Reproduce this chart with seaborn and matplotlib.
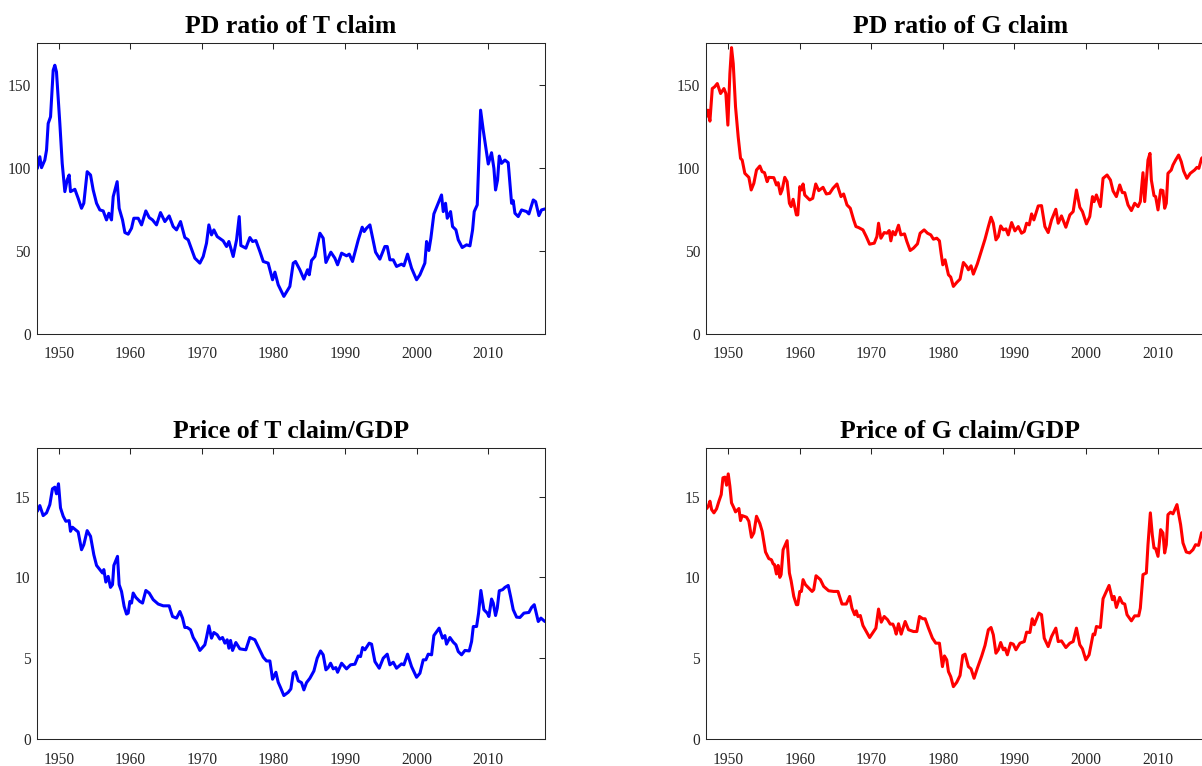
import numpy as np
import pandas as pd
import seaborn as sns
import matplotlib
matplotlib.use("Agg")
import matplotlib.pyplot as plt

# ---- data (year, value) ----
t_pd_year = [1947.0, 1947.34, 1947.58, 1948.04, 1948.28, 1948.51, 1948.84, 1949.21, 1949.44, 1949.67,
             1950.14, 1950.47, 1950.84, 1951.16, 1951.44, 1951.63, 1952.24, 1952.70, 1953.17, 1953.49,
             1953.96, 1954.43, 1954.80, 1955.27, 1955.73, 1956.20, 1956.66, 1956.99, 1957.36, 1957.60,
             1958.15, 1958.43, 1958.90, 1959.23, 1959.69, 1960.16, 1960.48, 1961.09, 1961.56, 1962.16,
             1962.63, 1963.09, 1963.65, 1964.21, 1964.82, 1965.42, 1965.98, 1966.45, 1967.01, 1967.61,
             1968.08, 1968.55, 1969.01, 1969.71, 1970.18, 1970.64, 1970.97, 1971.34, 1971.67, 1972.13,
             1972.97, 1973.44, 1973.77, 1974.37, 1974.84, 1975.21, 1975.44, 1976.14, 1976.70, 1977.08,
             1977.54, 1978.10, 1978.57, 1979.26, 1979.87, 1980.20, 1980.66, 1981.45, 1982.29, 1982.76,
             1983.08, 1983.69, 1984.25, 1984.76, 1985.00, 1985.32, 1985.79, 1986.49, 1986.95, 1987.33,
             1988.02, 1988.58, 1988.96, 1989.52, 1990.21, 1990.59, 1991.05, 1991.85, 1992.40, 1992.68,
             1993.01, 1993.48, 1994.27, 1994.87, 1995.57, 1995.90, 1996.27, 1996.74, 1997.20, 1997.90,
             1998.23, 1998.74, 1999.30, 2000.00, 2000.47, 2001.16, 2001.40, 2001.72, 2002.00, 2002.42,
             2002.89, 2003.49, 2003.73, 2004.05, 2004.29, 2004.75, 2005.03, 2005.50, 2005.83, 2006.38,
             2006.99, 2007.46, 2007.83, 2008.06, 2008.48, 2008.95, 2009.32, 2010.02, 2010.48, 2010.81,
             2011.04, 2011.32, 2011.56, 2011.88, 2012.35, 2012.81, 2013.28, 2013.51, 2013.75, 2014.21,
             2014.68, 2015.38, 2015.70, 2016.31, 2016.64, 2017.10, 2017.47, 2017.94]
t_pd = [99.6, 106.6, 100, 104.6, 110.6, 126.6, 130.6, 158.6, 161.6, 157.6,
        126.6, 102.6, 85.6, 92.6, 95.6, 85.6, 87, 81.6, 75.6, 78.6,
        97.6, 95.6, 86.6, 78.6, 74.6, 74, 68.6, 72.6, 68.6, 82.6,
        91.6, 75.6, 68.6, 61, 60, 63.6, 69.6, 69.6, 65.6, 74,
        70, 68.6, 65.6, 73, 67.6, 71, 64.6, 62.6, 67.6, 58,
        56.6, 51, 45.6, 42.6, 46.6, 54.6, 65.6, 59.6, 62.6, 58.6,
        56, 52.6, 55.6, 46.6, 56.6, 70.6, 53.2, 51.6, 58, 55.6,
        56.2, 49.6, 43.6, 42.6, 32.6, 37.2, 29.6, 22.6, 28.6, 42.6,
        43.6, 38.6, 33, 38.6, 35.6, 44.2, 46.6, 60.6, 57.6, 43,
        49.2, 45.6, 41.6, 48.6, 47, 48, 43.6, 56.6, 64.2, 61.6,
        63.6, 65.6, 49.2, 45, 52.6, 52.6, 44.6, 44.6, 40.6, 42,
        41, 48, 39.6, 32.6, 35.6, 42.6, 55.6, 50.2, 57.6, 72.2,
        77.2, 83.6, 73.6, 78.6, 69.6, 73.6, 64.6, 62.6, 56.6, 52,
        53.6, 53, 62.6, 73.6, 77.6, 134.6, 122.6, 102.2, 109, 99.6,
        86.6, 92.6, 107, 102.6, 104.6, 103, 78.6, 80.2, 72.6, 70.6,
        74.6, 73.6, 72.2, 80.6, 79.6, 71.2, 74.6, 75.2]

g_pd_year = [1947.0, 1947.16, 1947.44, 1947.77, 1948.09, 1948.47, 1948.93, 1949.40, 1949.67, 1949.95,
             1950.23, 1950.46, 1950.70, 1951.02, 1951.39, 1951.72, 1951.95, 1952.32, 1952.88, 1953.21,
             1953.58, 1953.95, 1954.42, 1954.74, 1955.07, 1955.44, 1955.67, 1956.37, 1956.74, 1956.97,
             1957.30, 1957.53, 1957.90, 1958.23, 1958.55, 1958.79, 1959.07, 1959.53, 1959.72, 1960.00,
             1960.23, 1960.46, 1960.69, 1961.39, 1961.81, 1962.23, 1962.65, 1963.25, 1963.71, 1964.18,
             1964.64, 1965.20, 1965.76, 1966.13, 1966.60, 1967.06, 1967.53, 1967.85, 1968.22, 1968.83,
             1969.29, 1969.76, 1970.41, 1970.78, 1971.01, 1971.34, 1971.80, 1972.18, 1972.50, 1972.73,
             1973.01, 1973.34, 1973.80, 1974.13, 1974.64, 1974.97, 1975.43, 1975.89, 1976.45, 1976.82,
             1977.38, 1977.85, 1978.31, 1978.68, 1979.15, 1979.52, 1979.75, 1979.99, 1980.31, 1980.78,
             1981.10, 1981.47, 1981.94, 1982.40, 1982.87, 1983.33, 1983.57, 1983.94, 1984.26, 1984.82,
             1985.43, 1985.89, 1986.36, 1986.73, 1987.05, 1987.42, 1987.75, 1988.08, 1988.45, 1988.82,
             1989.14, 1989.61, 1990.07, 1990.54, 1991.00, 1991.38, 1991.70, 1992.07, 1992.40, 1992.72,
             1993.33, 1993.79, 1994.26, 1994.72, 1995.19, 1995.79, 1996.12, 1996.58, 1997.19, 1997.75,
             1998.21, 1998.67, 1999.14, 1999.51, 2000.07, 2000.53, 2000.91, 2001.14, 2001.46, 2002.02,
             2002.39, 2002.95, 2003.42, 2003.79, 2004.25, 2004.72, 2005.09, 2005.42, 2005.88, 2006.35,
             2006.81, 2007.28, 2007.60, 2007.97, 2008.21, 2008.67, 2008.95, 2009.14, 2009.51, 2009.74,
             2010.07, 2010.44, 2010.76, 2011.00, 2011.23, 2011.46, 2011.92, 2012.16, 2012.53, 2012.95,
             2013.32, 2013.65, 2014.11, 2014.58, 2015.18, 2015.51, 2015.78, 2016.16, 2016.8, 2017.4, 2017.94]
g_pd = [131, 134.6, 128, 147.6, 148.6, 150.6, 144.6, 147.6, 144.6, 125.6,
        156.6, 172.2, 162.6, 136.6, 118.6, 105.6, 104.6, 96.6, 94.2, 86.6,
        90.6, 98.6, 101, 97.6, 97, 91.6, 94.2, 94, 89.6, 91,
        84.2, 86.6, 94.2, 91.6, 78.6, 76.6, 81, 71.6, 71.6, 88.6,
        86.6, 90.2, 83.6, 80.6, 81.6, 90.2, 86.2, 88.2, 84.2, 84.6,
        87.6, 90.2, 82.6, 84.2, 77.6, 75.6, 68.6, 64.6, 64, 62.6,
        58.6, 54, 54.6, 58.6, 66.6, 57.6, 61, 60.6, 62.2, 56,
        61.6, 59.6, 65.4, 59.6, 60.2, 55.6, 50.2, 51.6, 54.2, 60.6,
        62.6, 60.6, 59.6, 57, 57.6, 56, 48.6, 41.6, 44.6, 35.6,
        34.2, 28.6, 31, 33, 43, 40.6, 38.6, 41, 36, 42.2,
        50.6, 57, 64.6, 70.2, 66.6, 56.6, 58.6, 65, 62.6, 63.2,
        59.6, 67, 62, 64.6, 60.6, 61.6, 66.6, 65.6, 72.2, 68.6,
        77, 77.2, 64.6, 61, 68.6, 75, 66.6, 71, 64.2, 71.6,
        73.6, 86.6, 76.2, 73.6, 66.2, 70.6, 82.6, 79.6, 83.6, 76.6,
        93.6, 95.6, 92.6, 86, 82.6, 89.6, 85, 85, 77.6, 74.2,
        78.6, 76.6, 79.6, 97, 79.6, 104.6, 108.6, 92.6, 83.2, 82.6,
        74.6, 86.6, 86.2, 75.6, 78.6, 96.6, 98.6, 101.6, 104.6, 107.6,
        103.6, 98, 93.6, 96.6, 98.6, 100.2, 99.6, 105.6, 108, 107, 106]

t_price_year = [1947.0, 1947.34, 1947.81, 1948.28, 1948.74, 1949.11, 1949.44, 1949.67, 1949.95, 1950.23,
                1950.61, 1950.98, 1951.44, 1951.63, 1951.91, 1952.70, 1953.17, 1953.49, 1953.96, 1954.43,
                1954.89, 1955.27, 1955.73, 1956.10, 1956.29, 1956.57, 1956.90, 1957.22, 1957.50, 1957.69,
                1958.20, 1958.43, 1958.76, 1959.13, 1959.46, 1959.69, 1959.93, 1960.16, 1960.39, 1960.76,
                1961.32, 1961.70, 1962.16, 1962.63, 1963.19, 1963.89, 1964.59, 1965.42, 1965.89, 1966.45,
                1966.92, 1967.29, 1967.61, 1967.94, 1968.41, 1968.78, 1969.25, 1969.71, 1970.41, 1970.64,
                1970.97, 1971.34, 1971.67, 1972.13, 1972.51, 1972.88, 1973.21, 1973.53, 1973.77, 1974.00,
                1974.28, 1974.74, 1975.30, 1976.14, 1976.70, 1977.40, 1978.01, 1978.57, 1979.03, 1979.50,
                1979.87, 1980.34, 1980.66, 1980.99, 1981.45, 1982.06, 1982.43, 1982.76, 1983.08, 1983.46,
                1983.92, 1984.25, 1984.62, 1985.09, 1985.65, 1986.11, 1986.58, 1986.95, 1987.33, 1987.65,
                1987.98, 1988.35, 1988.72, 1988.96, 1989.52, 1990.21, 1990.77, 1991.38, 1991.85, 1992.17,
                1992.45, 1992.78, 1993.38, 1993.71, 1994.18, 1994.78, 1995.34, 1995.90, 1996.27, 1996.74,
                1997.20, 1997.90, 1998.23, 1998.74, 1999.30, 2000.00, 2000.47, 2000.93, 2001.30, 2001.63,
                2002.10, 2002.42, 2003.16, 2003.63, 2003.96, 2004.19, 2004.66, 2005.13, 2005.50, 2005.83,
                2006.29, 2006.76, 2007.36, 2007.69, 2007.93, 2008.39, 2008.67, 2008.99, 2009.41, 2009.88,
                2010.11, 2010.48, 2010.72, 2011.04, 2011.28, 2011.56, 2012.03, 2012.35, 2012.81, 2013.14,
                2013.51, 2013.98, 2014.45, 2015.01, 2015.70, 2016.08, 2016.45, 2017.01, 2017.38, 2017.94]
t_price = [14.09, 14.44, 13.82, 13.99, 14.50, 15.48, 15.58, 15.17, 15.79, 14.30,
           13.78, 13.47, 13.51, 12.85, 13.10, 12.81, 11.71, 12.02, 12.89, 12.54,
           11.40, 10.74, 10.48, 10.27, 10.48, 9.71, 10.06, 9.38, 9.55, 10.74,
           11.30, 9.55, 9.13, 8.20, 7.73, 7.79, 8.51, 8.41, 9.03, 8.76,
           8.51, 8.41, 9.19, 9.03, 8.62, 8.35, 8.24, 8.24, 7.58, 7.48,
           7.89, 7.48, 6.90, 6.90, 6.76, 6.28, 5.93, 5.48, 5.83, 6.28,
           7.00, 6.24, 6.59, 6.45, 6.18, 6.28, 5.93, 6.14, 5.62, 6.10,
           5.48, 5.97, 5.58, 5.52, 6.28, 6.14, 5.58, 5.06, 4.83, 4.83,
           3.70, 4.13, 3.51, 3.18, 2.69, 2.89, 3.10, 4.07, 4.17, 3.60,
           3.49, 3.04, 3.49, 3.76, 4.21, 5.00, 5.45, 5.21, 4.28, 4.42,
           4.69, 4.34, 4.42, 4.13, 4.69, 4.34, 4.59, 4.63, 5.14, 5.10,
           5.66, 5.52, 5.93, 5.87, 4.79, 4.38, 5.00, 5.25, 4.59, 4.75,
           4.38, 4.65, 4.59, 5.25, 4.48, 3.82, 4.07, 4.90, 4.90, 5.25,
           5.21, 6.40, 6.86, 6.24, 6.40, 5.87, 6.28, 5.99, 5.83, 5.41,
           5.21, 5.48, 5.45, 6.03, 6.96, 6.96, 7.79, 9.19, 8.00, 7.79,
           7.58, 8.66, 8.41, 7.64, 8.10, 9.17, 9.24, 9.38, 9.50, 8.82,
           8.00, 7.54, 7.52, 7.79, 7.83, 8.14, 8.31, 7.27, 7.48, 7.27]

g_price_year = [1947.0, 1947.21, 1947.44, 1947.68, 1948.00, 1948.37, 1948.70, 1949.02, 1949.26, 1949.54,
                1949.77, 1950.00, 1950.23, 1950.46, 1950.79, 1951.02, 1951.49, 1951.72, 1951.95, 1952.56,
                1952.88, 1953.25, 1953.58, 1953.95, 1954.42, 1954.74, 1955.21, 1955.67, 1956.04, 1956.28,
                1956.46, 1956.74, 1956.97, 1957.21, 1957.39, 1957.67, 1958.23, 1958.55, 1958.79, 1959.16,
                1959.53, 1959.72, 1960.00, 1960.23, 1960.46, 1960.79, 1961.34, 1961.72, 1961.95, 1962.27,
                1962.88, 1963.34, 1964.04, 1964.74, 1965.34, 1965.90, 1966.50, 1966.97, 1967.29, 1967.67,
                1967.90, 1968.13, 1968.46, 1968.83, 1969.29, 1969.76, 1970.32, 1970.64, 1971.01, 1971.39,
                1971.80, 1972.27, 1972.64, 1973.01, 1973.25, 1973.48, 1973.80, 1974.17, 1974.73, 1975.20,
                1975.89, 1976.36, 1976.73, 1977.20, 1977.52, 1977.99, 1978.54, 1979.01, 1979.52, 1979.94,
                1980.22, 1980.54, 1980.78, 1981.10, 1981.47, 1981.94, 1982.40, 1982.78, 1983.10, 1983.57,
                1983.94, 1984.36, 1984.82, 1985.43, 1985.89, 1986.36, 1986.73, 1987.05, 1987.42, 1987.75,
                1988.08, 1988.45, 1988.68, 1989.01, 1989.47, 1989.84, 1990.21, 1990.77, 1991.38, 1991.70,
                1992.17, 1992.49, 1992.77, 1993.42, 1993.79, 1994.17, 1994.72, 1995.19, 1995.79, 1996.12,
                1996.58, 1997.19, 1997.75, 1998.21, 1998.67, 1999.14, 1999.51, 1999.98, 2000.44, 2001.00,
                2001.23, 2001.46, 2002.02, 2002.39, 2003.23, 2003.70, 2003.93, 2004.25, 2004.72, 2005.09,
                2005.42, 2005.74, 2006.35, 2006.81, 2007.37, 2007.60, 2007.97, 2008.44, 2008.67, 2009.00,
                2009.27, 2009.51, 2009.74, 2010.07, 2010.44, 2010.76, 2011.00, 2011.23, 2011.46, 2011.83,
                2012.16, 2012.72, 2013.23, 2013.56, 2014.02, 2014.48, 2014.95, 2015.32, 2015.74, 2016.16,
                2017.0, 2017.94]
g_price = [14.26, 14.40, 14.71, 14.19, 13.99, 14.24, 14.71, 15.12, 16.16, 16.20,
           15.70, 16.40, 15.64, 14.61, 14.30, 14.05, 14.26, 13.51, 13.82, 13.72,
           13.47, 12.48, 12.75, 13.78, 13.33, 12.85, 11.57, 11.16, 11.09, 10.83,
           10.79, 10.21, 10.74, 10.00, 10.17, 11.71, 12.27, 10.27, 9.79, 8.82,
           8.31, 8.31, 9.13, 9.13, 9.86, 9.55, 9.30, 9.13, 9.24, 10.10,
           9.86, 9.44, 9.17, 9.13, 9.13, 8.35, 8.35, 8.82, 8.10, 7.69,
           7.93, 7.58, 7.64, 7.02, 6.65, 6.28, 6.65, 6.86, 8.04, 7.23,
           7.58, 7.38, 7.11, 7.11, 6.86, 6.49, 7.13, 6.49, 7.27, 6.76,
           6.65, 6.65, 7.58, 7.44, 7.44, 6.86, 6.24, 5.93, 5.93, 4.48,
           5.14, 4.90, 4.17, 3.86, 3.24, 3.51, 3.93, 5.17, 5.25, 4.48,
           4.34, 3.76, 4.38, 5.14, 5.79, 6.76, 6.90, 6.45, 5.31, 5.52,
           5.97, 5.52, 5.62, 5.21, 5.93, 5.87, 5.52, 5.93, 6.03, 6.61,
           6.59, 7.44, 7.07, 7.79, 7.69, 6.24, 5.72, 6.34, 6.86, 6.03,
           6.07, 5.66, 5.93, 6.03, 6.86, 5.83, 5.58, 4.90, 5.21, 6.49,
           6.45, 6.96, 6.90, 8.68, 9.50, 8.62, 8.82, 8.14, 8.76, 8.41,
           8.35, 7.69, 7.31, 7.62, 7.62, 8.10, 10.17, 10.27, 12.02, 13.99,
           12.64, 11.82, 11.78, 11.30, 12.95, 12.75, 11.51, 12.02, 13.88, 14.03,
           13.93, 14.50, 13.26, 12.13, 11.57, 11.51, 11.71, 12.02, 11.98, 12.75,
           12.9, 12.6]

titles = ["PD ratio of T claim", "PD ratio of G claim",
          "Price of T claim/GDP", "Price of G claim/GDP"]
year_ticks = [1950, 1960, 1970, 1980, 1990, 2000, 2010]
pd_ticks = [0, 50, 100, 150]
price_ticks = [0, 5, 10, 15]

sns.set_style("white")
plt.rcParams['font.family'] = ['Liberation Serif', 'DejaVu Serif']

fig = plt.figure(figsize=(12.02, 7.66), dpi=100)

# axes boxes (the right column runs past the figure edge, as in the reference)
aw, ah = 0.4229, 0.3799
boxes = [[0.0305, 0.5640, aw, ah], [0.5874, 0.5640, aw, ah],
         [0.0305, 0.0352, aw, ah], [0.5874, 0.0352, aw, ah]]

series = [(t_pd_year, t_pd, "blue", (0, 175), pd_ticks),
          (g_pd_year, g_pd, "red", (0, 175), pd_ticks),
          (t_price_year, t_price, "blue", (0, 18), price_ticks),
          (g_price_year, g_price, "red", (0, 18), price_ticks)]

axis_grey = (0.15, 0.15, 0.15)
for box, (xs, ys, col, ylim, yt), title in zip(boxes, series, titles):
    ax = fig.add_axes(box)
    df = pd.DataFrame({"year": xs, "value": ys})
    sns.lineplot(data=df, x="year", y="value", ax=ax, color=col,
                 linewidth=2.2, sort=False, estimator=None)
    ax.set_xlim(1946.9, 2017.95)
    ax.set_ylim(*ylim)
    ax.set_xticks(year_ticks)
    ax.set_yticks(yt)
    ax.set_xlabel("")
    ax.set_ylabel("")
    ax.set_title(title, fontsize=18.5, fontweight="bold", pad=7, color="black")
    for sp in ax.spines.values():
        sp.set_visible(True)
        sp.set_color(axis_grey)
        sp.set_linewidth(0.75)
    ax.tick_params(direction="in", top=True, right=True, length=4.3,
                   width=0.75, color=axis_grey, labelcolor=axis_grey,
                   labelsize=11.2)
    ax.tick_params(axis="x", pad=9)
    ax.tick_params(axis="y", pad=4.3)

fig.savefig("out.png", dpi=100)
